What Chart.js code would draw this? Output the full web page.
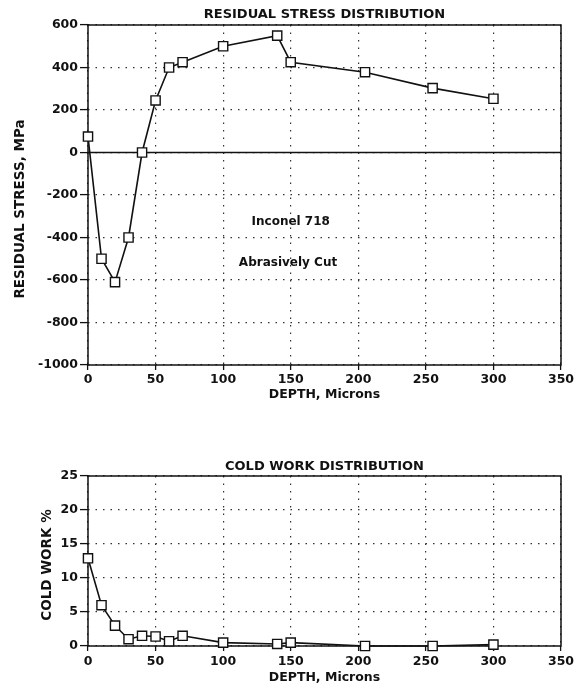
<!DOCTYPE html>
<html>
<head>
<meta charset="utf-8">
<script src="https://cdn.jsdelivr.net/npm/chart.js@4.4.1/dist/chart.umd.min.js"></script>
<style>
  html, body { margin: 0; padding: 0; background: #fff; }
  canvas { position: absolute; left: 0; }
  #stressChart { top: 0; }
  #coldChart { top: 430px; }
</style>
</head>
<body>
<canvas id="stressChart" width="579" height="402"></canvas>
<canvas id="coldChart" width="579" height="255"></canvas>
<script>
// residual stress vs depth (Inconel 718, abrasively cut)
const stressDepth = [0, 10, 20, 30, 40, 50, 60, 70, 100, 140, 150, 205, 255, 300];
const stressValues = [75, -500, -610, -400, 0, 245, 400, 425, 500, 550, 425, 378, 303, 253];

// cold work vs depth
const coldDepth = [0, 10, 20, 30, 40, 50, 60, 70, 100, 140, 150, 205, 255, 300];
const coldValues = [12.9, 6.0, 3.0, 1.0, 1.5, 1.4, 0.7, 1.5, 0.5, 0.3, 0.5, 0, 0, 0.2];

const depthTicks = [0, 50, 100, 150, 200, 250, 300, 350];
const stressTicks = [-1000, -800, -600, -400, -200, 0, 200, 400, 600];
const coldTicks = [0, 5, 10, 15, 20, 25];

const INK = '#111';
const FONT = '"DejaVu Sans", sans-serif';

const frameAndText = {
  id: 'frameAndText',
  beforeDatasetsDraw(chart, args, opts) {
    const { ctx, chartArea: a, scales } = chart;
    ctx.save();
    ctx.strokeStyle = INK;
    ctx.lineWidth = 1.5;
    ctx.strokeRect(a.left, a.top, a.width, a.height);
    if (opts.zeroLine) {
      const y0 = scales.y.getPixelForValue(0);
      ctx.beginPath();
      ctx.moveTo(a.left, y0);
      ctx.lineTo(a.right, y0);
      ctx.stroke();
    }
    ctx.restore();
  },
  afterDraw(chart, args, opts) {
    const { ctx, chartArea: a, scales } = chart;
    ctx.save();
    ctx.fillStyle = INK;
    ctx.textAlign = 'center';
    ctx.textBaseline = 'middle';
    ctx.font = 'bold 13px ' + FONT;
    ctx.fillText(opts.title, (a.left + a.right) / 2, opts.titleY);

    ctx.save();
    ctx.font = 'bold 13.5px ' + FONT;
    ctx.translate(opts.yTitleX, opts.yTitleY);
    ctx.rotate(-Math.PI / 2);
    ctx.fillText(opts.yTitle, 0, 0);
    ctx.restore();

    ctx.font = 'bold 12px ' + FONT;
    (opts.notes || []).forEach((n) => {
      ctx.fillText(n.text, scales.x.getPixelForValue(n.x), scales.y.getPixelForValue(n.y));
    });
    ctx.restore();
  },
};

function makeChart(canvasId, xs, ys, yTicks, yMin, yMax, extra) {
  return new Chart(document.getElementById(canvasId), {
    type: 'line',
    data: {
      datasets: [
        {
          data: xs.map((x, i) => ({ x: x, y: ys[i] })),
          borderColor: INK,
          borderWidth: 1.6,
          tension: 0,
          pointStyle: 'rect',
          pointRadius: 6.5,
          pointBackgroundColor: '#fff',
          pointBorderColor: INK,
          pointBorderWidth: 1.4,
          clip: false,
        },
      ],
    },
    options: {
      responsive: false,
      animation: false,
      events: [],
      layout: {
        padding: { left: 0, right: 18, top: extra.padTop, bottom: 0 },
      },
      scales: {
        x: {
          type: 'linear',
          min: 0,
          max: 350,
          afterBuildTicks: (axis) => {
            axis.ticks = depthTicks.map((v) => ({ value: v }));
          },
          afterFit: (axis) => {
            axis.height = extra.xAxisHeight;
          },
          grid: {
            color: '#333',
            lineWidth: 1.2,
            tickLength: 5,
            tickColor: INK,
            tickWidth: 1.3,
            tickBorderDash: [],
          },
          border: { display: false, dash: [1.5, 6] },
          ticks: {
            color: INK,
            padding: extra.xTickPad,
            maxRotation: 0,
            callback: (v) => String(v),
            font: { family: FONT, size: 12.5, weight: 'bold' },
          },
          title: {
            display: true,
            text: 'DEPTH, Microns',
            color: INK,
            padding: { top: 0, bottom: 0 },
            font: { family: FONT, size: 12.5, weight: 'bold' },
          },
        },
        y: {
          type: 'linear',
          min: yMin,
          max: yMax,
          afterBuildTicks: (axis) => {
            axis.ticks = yTicks.map((v) => ({ value: v }));
          },
          afterFit: (axis) => {
            axis.width = 88;
          },
          grid: {
            color: '#333',
            lineWidth: 1.2,
            tickLength: 8,
            tickColor: INK,
            tickWidth: 1.3,
            tickBorderDash: [],
          },
          border: { display: false, dash: [1.5, 6] },
          ticks: {
            color: INK,
            padding: 2,
            callback: (v) => String(v),
            font: { family: FONT, size: 12.5, weight: 'bold' },
          },
        },
      },
      plugins: {
        legend: { display: false },
        tooltip: { enabled: false },
        frameAndText: extra.text,
      },
    },
    plugins: [frameAndText],
  });
}

makeChart('stressChart', stressDepth, stressValues, stressTicks, -1000, 600, {
  padTop: 25,
  xAxisHeight: 37,
  xTickPad: 2,
  text: {
    title: 'RESIDUAL STRESS DISTRIBUTION',
    titleY: 15,
    yTitle: 'RESIDUAL STRESS, MPa',
    yTitleX: 20,
    yTitleY: 209,
    zeroLine: true,
    notes: [
      { text: 'Inconel 718', x: 150, y: -327 },
      { text: 'Abrasively Cut', x: 148, y: -520 },
    ],
  },
});

makeChart('coldChart', coldDepth, coldValues, coldTicks, 0, 25, {
  padTop: 46,
  xAxisHeight: 39,
  xTickPad: 3,
  text: {
    title: 'COLD WORK DISTRIBUTION',
    titleY: 37,
    yTitle: 'COLD WORK %',
    yTitleX: 47,
    yTitleY: 135,
    zeroLine: false,
    notes: [],
  },
});
</script>
</body>
</html>
